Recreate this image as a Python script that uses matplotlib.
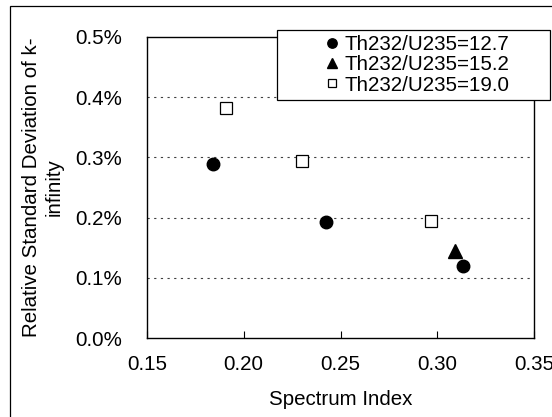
import matplotlib
matplotlib.use('Agg')
from matplotlib import pyplot as plt
from matplotlib.patches import Rectangle

# Values (y values in %)
ratio_127_x = [0.184, 0.2423, 0.3135]
ratio_127_y = [0.2885, 0.1927, 0.120]
ratio_152_x = [0.309]
ratio_152_y = [0.145]
ratio_190_x = [0.1908, 0.2301, 0.297]
ratio_190_y = [0.3815, 0.294, 0.194]

series_labels = ['Th232/U235=12.7', 'Th232/U235=15.2', 'Th232/U235=19.0']
x_ticks = [0.15, 0.20, 0.25, 0.30, 0.35]
y_ticks = [0.0, 0.1, 0.2, 0.3, 0.4, 0.5]

plt.rcParams['font.family'] = ['Liberation Sans', 'DejaVu Sans']
FS = 14.8
W, H = 552, 417

fig = plt.figure(figsize=(W / 100, H / 100), dpi=100)
ax = fig.add_axes([147 / W, 1 - 338 / H, (534 - 147) / W, (338 - 37) / H])

ax.plot(ratio_127_x, ratio_127_y, 'o', color='black', markersize=9, label=series_labels[0], zorder=3)
ax.plot(ratio_152_x, ratio_152_y, '^', color='black', markersize=10, label=series_labels[1], zorder=3)
ax.plot(ratio_190_x, ratio_190_y, 's', markerfacecolor='white', markeredgecolor='black',
        markeredgewidth=0.9, markersize=8, label=series_labels[2], zorder=3)

ax.set_xlim(0.15, 0.35)
ax.set_ylim(0.0, 0.5)
ax.set_xticks(x_ticks)
ax.set_xticklabels(['%.2f' % v for v in x_ticks], fontsize=FS)
ax.set_yticks(y_ticks)
ax.set_yticklabels(['%.1f%%' % v for v in y_ticks], fontsize=FS)
ax.tick_params(axis='x', direction='in', length=5, width=0.8, pad=12)
ax.tick_params(axis='y', length=0, pad=18)
for s in ax.spines.values():
    s.set_linewidth(1.0)

for v in y_ticks[1:-1]:
    ax.axhline(v, color='#404040', linewidth=0.8, linestyle=(0, (2, 4)), zorder=1)

ax.set_xlabel('Spectrum Index', fontsize=FS, labelpad=12)
fig.text(43 / W, 1 - 187 / H, 'Relative Standard Deviation of k-\ninfinity', rotation=90,
         ha='center', va='center', multialignment='center', fontsize=FS)

# legend box and outer chart border
fig.add_artist(Rectangle((277 / W, 1 - 100 / H), (550 - 277) / W, 70 / H, transform=fig.transFigure,
                         facecolor='white', edgecolor='black', linewidth=0.9, zorder=4))
fig.add_artist(Rectangle((10 / W, -0.1), 1.2, 1.1 - 6 / H, transform=fig.transFigure,
                         facecolor='none', edgecolor='black', linewidth=0.9, zorder=4))

leg = fig.legend(loc='center', bbox_to_anchor=(418 / W, 1 - 65 / H), frameon=False, fontsize=FS,
                 markerscale=0.75, handlelength=0.6, handletextpad=0.3, labelspacing=0.05,
                 borderpad=0, borderaxespad=0)
leg.set_zorder(5)

fig.savefig('out.png', dpi=100)
